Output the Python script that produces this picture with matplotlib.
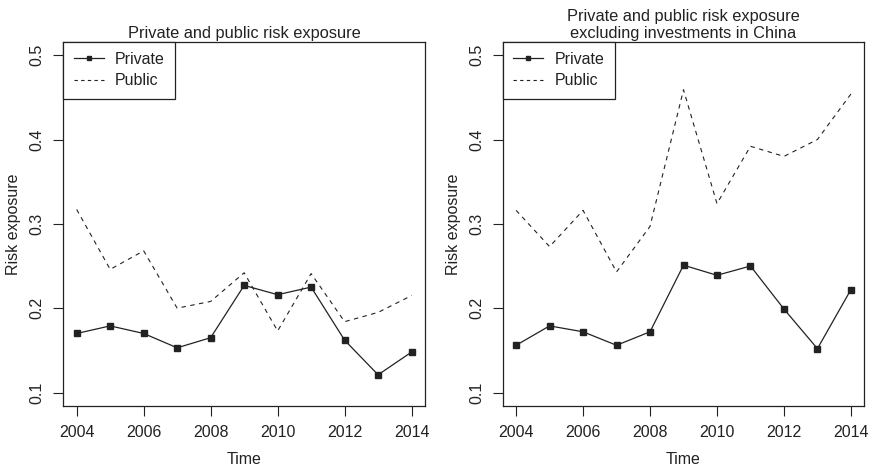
import matplotlib
matplotlib.use("Agg")
import matplotlib.pyplot as plt
from matplotlib.lines import Line2D

plt.rcParams['font.family'] = ['Liberation Sans', 'DejaVu Sans']

years = [2004, 2005, 2006, 2007, 2008, 2009, 2010, 2011, 2012, 2013, 2014]

private_all = [0.170, 0.179, 0.170, 0.153, 0.165, 0.227, 0.216, 0.225, 0.162, 0.121, 0.148]
public_all = [0.317, 0.246, 0.268, 0.200, 0.208, 0.242, 0.173, 0.241, 0.184, 0.195, 0.215]

private_exchina = [0.156, 0.179, 0.172, 0.156, 0.172, 0.251, 0.239, 0.250, 0.199, 0.152, 0.222]
public_exchina = [0.316, 0.273, 0.316, 0.243, 0.297, 0.459, 0.324, 0.392, 0.380, 0.400, 0.454]

titles = ["Private and public risk exposure",
          "Private and public risk exposure\nexcluding investments in China"]
xticks = [2004, 2006, 2008, 2010, 2012, 2014]
yticks = [0.1, 0.2, 0.3, 0.4, 0.5]

fig = plt.figure(figsize=(8.75, 4.76), dpi=100)
W, H = 875, 476
panels = [(63.3, 425.0), (502.7, 864.3)]
top_px, bot_px = 41.7, 406.0
col = '#222222'

data = [(private_all, public_all), (private_exchina, public_exchina)]
for (x0, x1), (priv, pub), title in zip(panels, data, titles):
    ax = fig.add_axes([x0 / W, 1 - bot_px / H, (x1 - x0) / W, (bot_px - top_px) / H])
    ax.plot(years, priv, color=col, lw=0.9, marker='s', ms=3.8, mec=col, mfc=col)
    ax.plot(years, pub, color=col, lw=0.8, ls=(0, (4, 4)))
    ax.set_xlim(2004 - 0.4, 2014 + 0.4)
    ax.set_ylim(0.1 - 0.016, 0.5 + 0.016)
    ax.set_xticks(xticks)
    ax.set_xticklabels([str(v) for v in xticks])
    ax.set_yticks(yticks)
    ax.set_yticklabels([f"{v:.1f}" for v in yticks], rotation=90, va='center')
    ax.tick_params(direction='out', length=7.5, width=0.8, color=col, labelsize=11.5,
                   labelcolor=col, pad=6)
    for s in ax.spines.values():
        s.set_linewidth(0.9)
        s.set_color(col)
    ax.set_xlabel("Time", fontsize=11.5, color=col, labelpad=9)
    ax.set_ylabel("Risk exposure", fontsize=11.5, color=col, labelpad=6)
    ax.set_title(title, fontsize=11.8, color=col, pad=3, linespacing=1.15)
    handles = [Line2D([], [], color=col, lw=0.9, marker='s', ms=2.6),
               Line2D([], [], color=col, lw=0.8, ls=(0, (3, 3)))]
    leg = ax.legend(handles, ["Private", "Public"], loc='upper left', borderaxespad=0,
                    fancybox=False, framealpha=1, edgecolor=col, fontsize=11.5,
                    handlelength=1.9, handletextpad=0.7, borderpad=0.65, labelspacing=0.4)
    leg.get_frame().set_linewidth(0.9)
    for t in leg.get_texts():
        t.set_color(col)

fig.savefig("out.png", dpi=100)
